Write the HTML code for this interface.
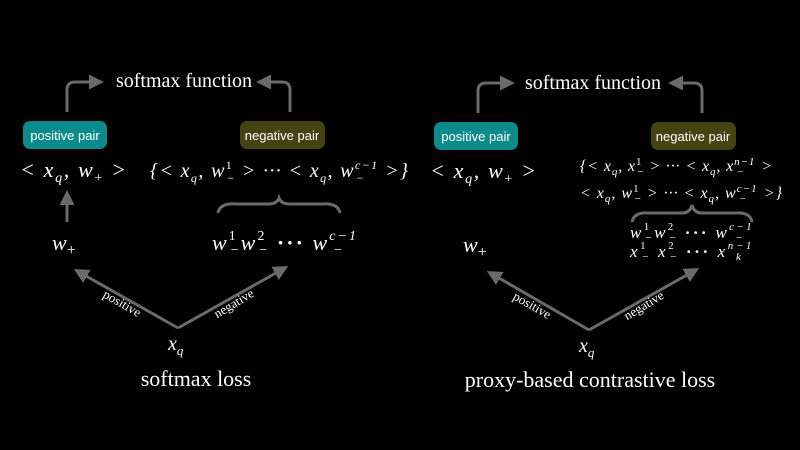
<!DOCTYPE html>
<html><head><meta charset="utf-8"><style>
html,body{margin:0;padding:0;background:#000;}
svg{display:block}
.s{font-family:"Liberation Serif",serif;fill:#fff}
.m{font-family:"Liberation Serif",serif;font-style:italic;fill:#fff}
.b{font-family:"Liberation Sans",sans-serif;fill:#fff;font-size:13px}
.ln{stroke:#6a6a6a;stroke-width:3;fill:none}
</style></head><body>
<svg width="800" height="450" viewBox="0 0 800 450">
<defs><marker id="a" markerWidth="5" markerHeight="5" refX="3" refY="2.5" orient="auto" markerUnits="strokeWidth"><path d="M0,0 L5,2.5 L0,5 z" fill="#6a6a6a"/></marker></defs>
<rect width="800" height="450" fill="#000"/>

<!-- LEFT -->
<text class="s" x="184" y="87" font-size="20" text-anchor="middle">softmax function</text>
<path class="ln" d="M67,112 V90 Q67,82 75,82 H98" marker-end="url(#a)"/>
<path class="ln" d="M290,112 V90 Q290,82 282,82 H262" marker-end="url(#a)"/>
<rect x="23" y="121" width="84" height="28" rx="7" fill="#0c8a8c"/>
<text class="b" x="65" y="140" text-anchor="middle">positive pair</text>
<rect x="240" y="121" width="85" height="28" rx="7" fill="#464212"/>
<text class="b" x="282" y="140" text-anchor="middle">negative pair</text>
<text class="m" x="20" y="177" font-size="22" textLength="106" lengthAdjust="spacing">&lt; x<tspan font-size="14" dy="5">q</tspan><tspan dy="-5">, w</tspan><tspan font-size="14" dy="5" font-style="normal">+</tspan><tspan dy="-5"> &gt;</tspan></text>
<text class="m" x="150" y="177" font-size="20" textLength="258" lengthAdjust="spacing">{&lt; x<tspan font-size="12" dy="5">q</tspan><tspan dy="-5">, w</tspan><tspan font-size="12" dy="-8" font-style="normal">1</tspan><tspan font-size="12" dx="-6" dy="13" font-style="normal">−</tspan><tspan dy="-5"> &gt; ··· &lt; x</tspan><tspan font-size="12" dy="5">q</tspan><tspan dy="-5">, w</tspan><tspan font-size="12" dy="-8">c−1</tspan><tspan font-size="12" dx="-22" dy="13" font-style="normal">−</tspan><tspan dx="14" dy="-5"> &gt;}</tspan></text>
<path class="ln" d="M67,222 V196" marker-end="url(#a)"/>
<path class="ln" d="M218,213 Q220,203 235,204 L268,204 Q277,204 279,198 Q281,204 290,204 L323,204 Q338,203 340,213"/>
<text class="m" x="52" y="250" font-size="22">w<tspan font-size="16" font-style="normal" dy="5">+</tspan></text>
<text class="m" x="212" y="250" font-size="22" textLength="146" lengthAdjust="spacing">w<tspan font-size="14" font-style="normal" dy="-10">1</tspan><tspan font-size="14" font-style="normal" dx="-7" dy="14">−</tspan><tspan dy="-4">w</tspan><tspan font-size="14" font-style="normal" dy="-10">2</tspan><tspan font-size="14" font-style="normal" dx="-7" dy="14">−</tspan><tspan dy="-4" font-style="normal" font-weight="bold"> ··· </tspan><tspan>w</tspan><tspan font-size="14" dy="-10">c−1</tspan><tspan font-size="14" font-style="normal" dx="-24" dy="14">−</tspan></text>
<path class="ln" d="M178,328 L79,272" marker-end="url(#a)"/>
<path class="ln" d="M178,328 L283,269" marker-end="url(#a)"/>
<text class="s" font-size="13" transform="translate(120,307) rotate(30)" text-anchor="middle">positive</text>
<text class="s" font-size="13" transform="translate(236,307) rotate(-31)" text-anchor="middle">negative</text>
<text class="m" x="168" y="350" font-size="20">x<tspan font-size="13" dy="5">q</tspan></text>
<text class="s" x="196" y="386" font-size="22" text-anchor="middle">softmax loss</text>

<!-- RIGHT -->
<text class="s" x="593" y="89" font-size="20" text-anchor="middle">softmax function</text>
<path class="ln" d="M478,113 V91 Q478,83 486,83 H509" marker-end="url(#a)"/>
<path class="ln" d="M702,113 V91 Q702,83 694,83 H674" marker-end="url(#a)"/>
<rect x="434" y="122" width="84" height="28" rx="7" fill="#0c8a8c"/>
<text class="b" x="476" y="141" text-anchor="middle">positive pair</text>
<rect x="651" y="122" width="85" height="28" rx="7" fill="#464212"/>
<text class="b" x="693" y="141" text-anchor="middle">negative pair</text>
<text class="m" x="430" y="178" font-size="22" textLength="106" lengthAdjust="spacing">&lt; x<tspan font-size="14" dy="5">q</tspan><tspan dy="-5">, w</tspan><tspan font-size="14" dy="5" font-style="normal">+</tspan><tspan dy="-5"> &gt;</tspan></text>
<text class="m" x="580" y="171" font-size="16" textLength="192" lengthAdjust="spacing">{&lt; x<tspan font-size="11" dy="4">q</tspan><tspan dy="-4">, x</tspan><tspan font-size="11" dy="-6" font-style="normal">1</tspan><tspan font-size="11" dx="-5" dy="10" font-style="normal">−</tspan><tspan dy="-4"> &gt; ··· &lt; x</tspan><tspan font-size="11" dy="4">q</tspan><tspan dy="-4">, x</tspan><tspan font-size="11" dy="-6">n−1</tspan><tspan font-size="11" dx="-18" dy="10" font-style="normal">−</tspan><tspan dx="12" dy="-4"> &gt;</tspan></text>
<text class="m" x="580" y="198" font-size="16" textLength="202" lengthAdjust="spacing">&lt; x<tspan font-size="11" dy="4">q</tspan><tspan dy="-4">, w</tspan><tspan font-size="11" dy="-6" font-style="normal">1</tspan><tspan font-size="11" dx="-5" dy="10" font-style="normal">−</tspan><tspan dy="-4"> &gt; ··· &lt; x</tspan><tspan font-size="11" dy="4">q</tspan><tspan dy="-4">, w</tspan><tspan font-size="11" dy="-6">c−1</tspan><tspan font-size="11" dx="-18" dy="10" font-style="normal">−</tspan><tspan dx="12" dy="-4"> &gt;}</tspan></text>
<path class="ln" d="M632,222 Q634,212 648,213 L682,213 Q690,213 692,205 Q694,213 702,213 L736,213 Q750,212 752,222"/>
<text class="m" x="463" y="252" font-size="22">w<tspan font-size="16" font-style="normal" dy="5">+</tspan></text>
<text class="m" x="630" y="238" font-size="17" textLength="124" lengthAdjust="spacing">w<tspan font-size="11" font-style="normal" dy="-8">1</tspan><tspan font-size="11" font-style="normal" dx="-6" dy="11">−</tspan><tspan dy="-3">w</tspan><tspan font-size="11" font-style="normal" dy="-8">2</tspan><tspan font-size="11" font-style="normal" dx="-6" dy="11">−</tspan><tspan dy="-3" font-style="normal" font-weight="bold"> ··· </tspan><tspan>w</tspan><tspan font-size="11" dy="-8">c−1</tspan><tspan font-size="11" font-style="normal" dx="-18" dy="11">−</tspan></text>
<text class="m" x="630" y="257" font-size="17" textLength="124" lengthAdjust="spacing">x<tspan font-size="11" font-style="normal" dy="-8">1</tspan><tspan font-size="11" font-style="normal" dx="-6" dy="11">−</tspan><tspan dy="-3"> x</tspan><tspan font-size="11" font-style="normal" dy="-8">2</tspan><tspan font-size="11" font-style="normal" dx="-6" dy="11">−</tspan><tspan dy="-3" font-style="normal" font-weight="bold"> ··· </tspan><tspan>x</tspan><tspan font-size="11" dy="-8">n−1</tspan><tspan font-size="11" dx="-18" dy="11">k</tspan></text>
<path class="ln" d="M589,330 L492,274" marker-end="url(#a)"/>
<path class="ln" d="M589,330 L694,271" marker-end="url(#a)"/>
<text class="s" font-size="13" transform="translate(530,309) rotate(30)" text-anchor="middle">positive</text>
<text class="s" font-size="13" transform="translate(646,309) rotate(-31)" text-anchor="middle">negative</text>
<text class="m" x="579" y="352" font-size="20">x<tspan font-size="13" dy="5">q</tspan></text>
<text class="s" x="590" y="387" font-size="22" text-anchor="middle">proxy-based contrastive loss</text>
</svg>
</body></html>
